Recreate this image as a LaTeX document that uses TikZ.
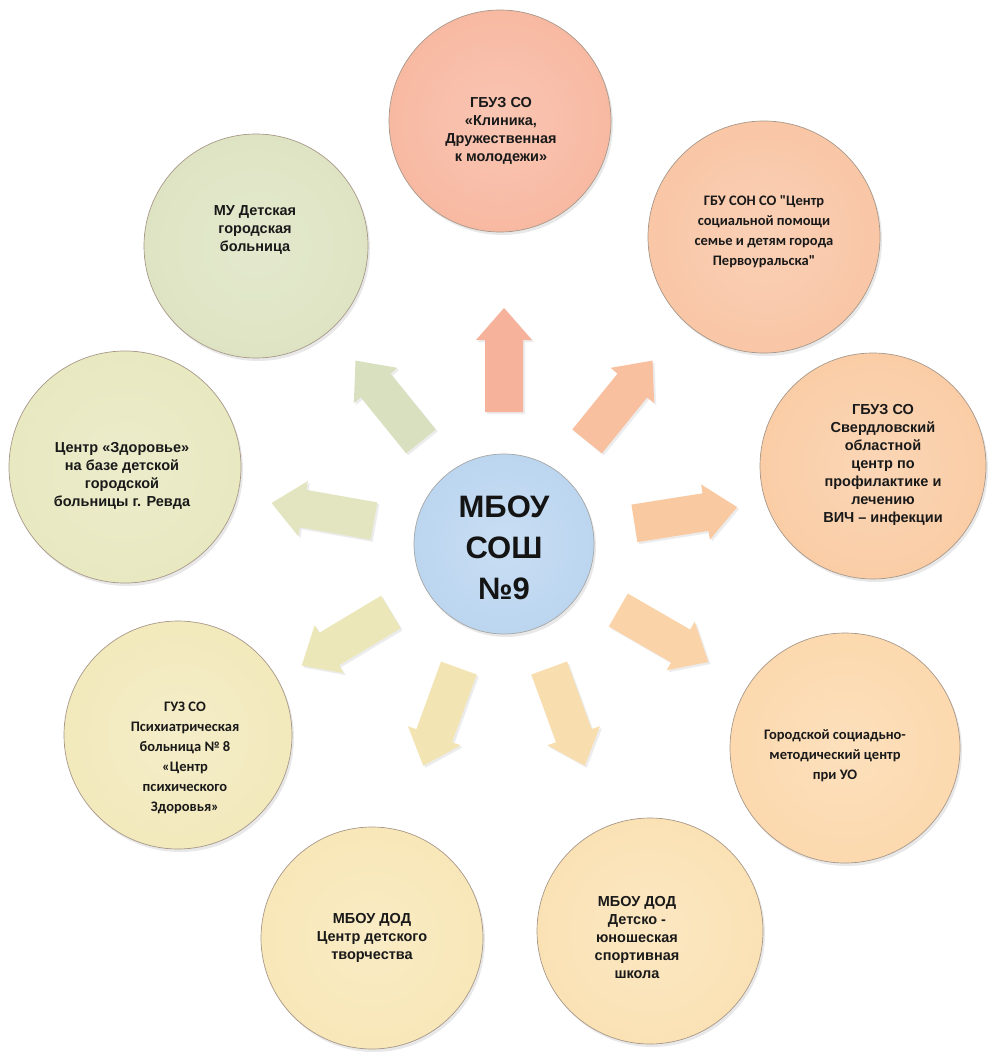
\documentclass[tikz,border=0pt]{standalone}
\usepackage{fontspec}
\setmainfont{Liberation Sans}
\newfontfamily\calib{Carlito}
\usetikzlibrary{shadows}
\definecolor{cTop}{HTML}{F8B9A2}
\definecolor{cTR}{HTML}{F9C6A6}
\definecolor{cR}{HTML}{FACDA6}
\definecolor{cLR}{HTML}{FCD9AE}
\definecolor{cBR}{HTML}{FBE2B5}
\definecolor{cBL}{HTML}{F8E7B8}
\definecolor{cLL}{HTML}{F2E9BC}
\definecolor{cL}{HTML}{E8E8C1}
\definecolor{cTL}{HTML}{DEE4C3}
\definecolor{cCen}{HTML}{BCD6F0}
\definecolor{aUp}{HTML}{F6B29B}
\definecolor{aUR}{HTML}{F8C09F}
\definecolor{aR}{HTML}{F9C9A2}
\definecolor{aLR}{HTML}{FAD3A8}
\definecolor{aBR}{HTML}{F8DDAF}
\definecolor{aBL}{HTML}{F3E4B3}
\definecolor{aLL}{HTML}{EBE7B8}
\definecolor{aL}{HTML}{E2E5BF}
\definecolor{aUL}{HTML}{D9E0BF}
\definecolor{edge}{HTML}{A8988A}
\tikzset{
  circ/.style 2 args={circle, minimum size=#1, inner sep=0pt, draw=edge, line width=0.7pt,
    inner color=#2!82!white, outer color=#2,
    drop shadow={opacity=0.18, shadow xshift=2pt, shadow yshift=-3pt}},
  lbl/.style={align=center, font=\bfseries\fontsize{14.5}{18}\selectfont, text=black!90, inner sep=0pt},
  clbl/.style={align=center, font=\calib\bfseries\fontsize{14.5}{20}\selectfont, text=black!90, inner sep=0pt},
  blk/.style={drop shadow={opacity=0.15, shadow xshift=2pt, shadow yshift=-2pt}}
}
\begin{document}
\begin{tikzpicture}[x=1pt, y=-1pt]
\useasboundingbox (0,0) rectangle (988,1054);
\fill[white] (0,0) rectangle (988,1054);

% block arrows radiating from the centre
\foreach \a/\c in {90/aUp, 51/aUR, 9/aR, -30/aLR, -70/aBR, -110/aBL, -149/aLL, 170/aL, 129/aUL}{
  \begin{scope}[shift={(504,544)}, rotate=\a]
    \fill[\c, blk] (132,-19) -- (204,-19) -- (204,-28) -- (236,0) -- (204,28) -- (204,19) -- (132,19) -- cycle;
  \end{scope}
}

% circles
\node[circ={222pt}{cTop}] (top) at (500,121) {};
\node[circ={232pt}{cTR}] (tr) at (764,237) {};
\node[circ={226pt}{cR}] (rt) at (873,466) {};
\node[circ={230pt}{cLR}] (lr) at (845,748) {};
\node[circ={226pt}{cBR}] (br) at (650,931) {};
\node[circ={222pt}{cBL}] (bl) at (372,938) {};
\node[circ={228pt}{cLL}] (ll) at (178,735) {};
\node[circ={232pt}{cL}] (lf) at (125,467) {};
\node[circ={224pt}{cTL}] (tl) at (256,246) {};
\node[circ={180pt}{cCen}, draw=black!35] (cen) at (504,544) {};

% texts
\node[lbl] (ttop) at (501,131) {ГБУЗ СО\\«Клиника,\\Дружественная\\к молодежи»};
\node[clbl] (ttr) at (764,232) {ГБУ СОН СО "Центр\\социальной помощи\\семье и детям города\\Первоуральска"};
\node[lbl] (trt) at (883,465) {ГБУЗ СО\\Свердловский\\областной\\центр по\\профилактике и\\лечению\\ВИЧ – инфекции};
\node[clbl] (tlr) at (835,756) {Городской социадьно-\\методический центр\\при УО};
\node[lbl] (tbr) at (637,937) {МБОУ ДОД\\Детско -\\юношеская\\спортивная\\школа};
\node[lbl] (tbl) at (372,938) {МБОУ ДОД\\Центр детского\\творчества};
\node[clbl] (tll) at (185,758) {ГУЗ СО\\Психиатрическая\\больница № 8\\«Центр\\психического\\Здоровья»};
\node[lbl] (tlf) at (122,476) {Центр «Здоровье»\\на базе детской\\городской\\больницы г. Ревда};
\node[lbl] (ttl) at (255,230) {МУ Детская\\городская\\больница};
\node[align=center, font=\bfseries\fontsize{31}{41}\selectfont, text=black!92, inner sep=0pt] (tcen) at (504,548) {МБОУ\\СОШ\\№9};
\end{tikzpicture}
\end{document}
